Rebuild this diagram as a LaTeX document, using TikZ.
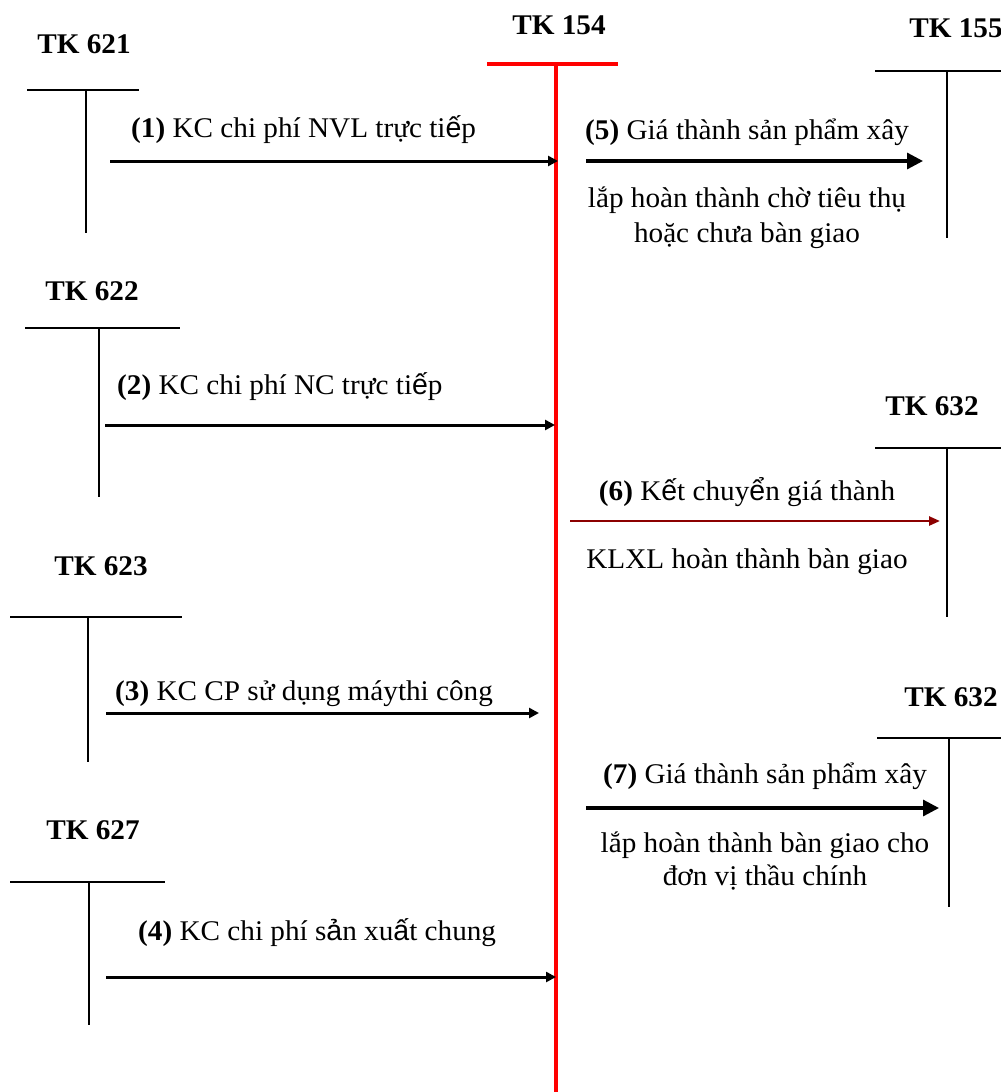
\documentclass[tikz,border=0pt]{standalone}
\usepackage{fontspec}
\setmainfont[FakeStretch=1.025]{Liberation Serif}
\newfontfamily\sansvn{Liberation Sans}
\usetikzlibrary{arrows.meta}
\definecolor{tkred}{RGB}{255,0,0}
\definecolor{darkred}{RGB}{140,0,0}
\begin{document}
\begin{tikzpicture}[x=1pt,y=-1pt,
 lbl/.style={font=\fontsize{28.5}{34}\selectfont, inner sep=0pt, anchor=base},
 lblw/.style={lbl, anchor=base west},
 acct/.style={font=\fontsize{28.5}{34}\selectfont\bfseries, inner sep=0pt, anchor=base},
 tline/.style={line width=2pt, black},
 redline/.style={line width=4pt, tkred},
 smallarr/.style={line width=3pt, -{Triangle[length=10pt,width=10pt]}},
 bigarr/.style={line width=3.2pt, -{Triangle[length=16pt,width=16pt]}},
 redarr/.style={line width=2.4pt, darkred, -{Triangle[length=11pt,width=9pt]}},
]
\useasboundingbox (0,0) rectangle (1001,1092);

% TK 154 (main, red)
\node[acct] (tk154) at (559,34) {TK 154};
\coordinate (r154a) at (487,64);
\coordinate (r154b) at (618,64);
\coordinate (r154t) at (556,64);
\coordinate (r154d) at (556,1092);
\draw[redline] (r154a) -- (r154b);
\draw[redline] (r154t) -- (r154d);

% TK 621
\node[acct] (tk621) at (84,53) {TK 621};
\coordinate (b621a) at (27,90); \coordinate (b621b) at (139,90);
\coordinate (v621t) at (86,90); \coordinate (v621d) at (86,233);
\draw[tline] (b621a) -- (b621b);
\draw[tline] (v621t) -- (v621d);
\coordinate (a1s) at (110,161); \coordinate (a1e) at (558,161);
\draw[smallarr] (a1s) -- (a1e);
\node[lblw] (l1) at (131,137) {\textbf{(1)} KC chi phí NVL trực ti{\sansvn ế}p};

% TK 622
\node[acct] (tk622) at (92,300) {TK 622};
\coordinate (b622a) at (25,328); \coordinate (b622b) at (180,328);
\coordinate (v622t) at (99,328); \coordinate (v622d) at (99,497);
\draw[tline] (b622a) -- (b622b);
\draw[tline] (v622t) -- (v622d);
\coordinate (a2s) at (105,425); \coordinate (a2e) at (555,425);
\draw[smallarr] (a2s) -- (a2e);
\node[lblw] (l2) at (117,394) {\textbf{(2)} KC chi phí NC trực ti{\sansvn ế}p};

% TK 623
\node[acct] (tk623) at (101,575) {TK 623};
\coordinate (b623a) at (10,617); \coordinate (b623b) at (182,617);
\coordinate (v623t) at (88,617); \coordinate (v623d) at (88,762);
\draw[tline] (b623a) -- (b623b);
\draw[tline] (v623t) -- (v623d);
\coordinate (a3s) at (106,713); \coordinate (a3e) at (539,713);
\draw[smallarr] (a3s) -- (a3e);
\node[lblw] (l3) at (115,700) {\textbf{(3)} KC CP sử dụng máythi công};

% TK 627
\node[acct] (tk627) at (93,839) {TK 627};
\coordinate (b627a) at (10,882); \coordinate (b627b) at (165,882);
\coordinate (v627t) at (89,882); \coordinate (v627d) at (89,1025);
\draw[tline] (b627a) -- (b627b);
\draw[tline] (v627t) -- (v627d);
\coordinate (a4s) at (106,977); \coordinate (a4e) at (556,977);
\draw[smallarr] (a4s) -- (a4e);
\node[lblw] (l4) at (138,940) {\textbf{(4)} KC chi phí s{\sansvn ả}n xu{\sansvn ấ}t chung};

% TK 155
\node[acct] (tk155) at (956,37) {TK 155};
\coordinate (b155a) at (875,71); \coordinate (b155b) at (1001,71);
\coordinate (v155t) at (947,71); \coordinate (v155d) at (947,238);
\draw[tline] (b155a) -- (b155b);
\draw[tline] (v155t) -- (v155d);
\coordinate (a5s) at (586,161); \coordinate (a5e) at (923,161);
\draw[bigarr] (a5s) -- (a5e);
\node[lbl] (l5a) at (747,139) {\textbf{(5)} Giá thành sản phẩm xây};
\node[lbl] (l5b) at (747,207) {lắp hoàn thành chờ tiêu thụ};
\node[lbl] (l5c) at (747,242) {hoặc chưa bàn giao};

% TK 632 (first)
\node[acct] (tk632a) at (932,415) {TK 632};
\coordinate (b632a) at (875,448); \coordinate (b632b) at (1001,448);
\coordinate (v632t) at (947,448); \coordinate (v632d) at (947,617);
\draw[tline] (b632a) -- (b632b);
\draw[tline] (v632t) -- (v632d);
\coordinate (a6s) at (570,521); \coordinate (a6e) at (940,521);
\draw[redarr] (a6s) -- (a6e);
\node[lbl] (l6a) at (747,500) {\textbf{(6)} K{\sansvn ế}t chuy{\sansvn ể}n giá thành};
\node[lbl] (l6b) at (747,568) {KLXL hoàn thành bàn giao};

% TK 632 (second)
\node[acct] (tk632b) at (951,706) {TK 632};
\coordinate (c632a) at (877,738); \coordinate (c632b) at (1001,738);
\coordinate (w632t) at (949,738); \coordinate (w632d) at (949,907);
\draw[tline] (c632a) -- (c632b);
\draw[tline] (w632t) -- (w632d);
\coordinate (a7s) at (586,808); \coordinate (a7e) at (939,808);
\draw[bigarr] (a7s) -- (a7e);
\node[lbl] (l7a) at (765,783) {\textbf{(7)} Giá thành sản phẩm xây};
\node[lbl] (l7b) at (765,852) {lắp hoàn thành bàn giao cho};
\node[lbl] (l7c) at (765,885) {đơn vị thầu chính};
\end{tikzpicture}
\end{document}
